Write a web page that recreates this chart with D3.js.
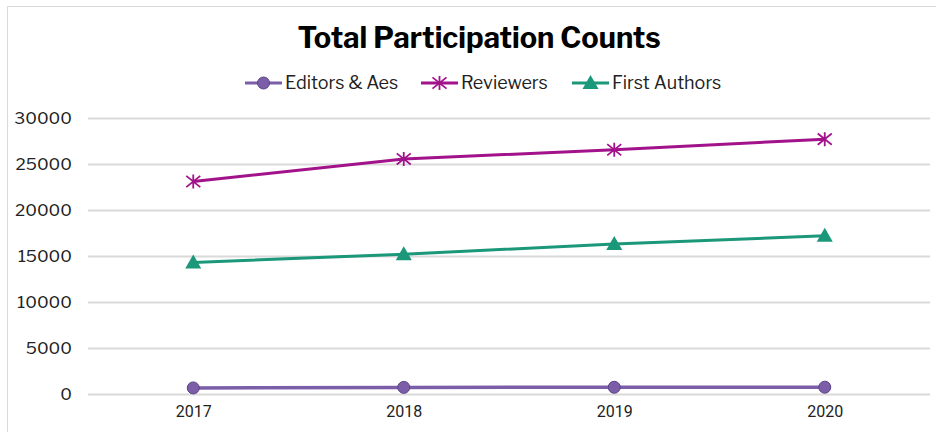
<!DOCTYPE html>
<html>
<head>
<meta charset="utf-8">
<script src="https://cdn.jsdelivr.net/npm/d3@7"></script>
<style>
  html, body { margin: 0; padding: 0; background: #fff; }
  svg { display: block; }
</style>
</head>
<body>
<svg id="chart" width="936" height="432"></svg>
<script>
const years = ["2017", "2018", "2019", "2020"];
const editors = [660, 720, 730, 740];
const reviewers = [23100, 25550, 26550, 27700];
const firstAuthors = [14300, 15200, 16300, 17200];
const yTicks = [0, 5000, 10000, 15000, 20000, 25000, 30000];
const seriesNames = ["Editors & Aes", "Reviewers", "First Authors"];
const title = "Total Participation Counts";

const colors = { "Editors & Aes": "#7b5ea7", "Reviewers": "#a2128a", "First Authors": "#1b977a" };
const series = [
  { name: seriesNames[0], values: editors, marker: "circle" },
  { name: seriesNames[1], values: reviewers, marker: "star" },
  { name: seriesNames[2], values: firstAuthors, marker: "triangle" }
];

const svg = d3.select("#chart");
const W = 936, H = 432;
const plot = { left: 88, right: 930, top: 118, bottom: 394 };
const fontMain = "'Libre Franklin', 'Roboto', 'Noto Sans', sans-serif";

// frame
svg.append("line").attr("x1", 7.5).attr("x2", 7.5).attr("y1", 6.5).attr("y2", H).attr("stroke", "#d9d9d9").attr("stroke-width", 1);
svg.append("line").attr("x1", 7.5).attr("x2", W).attr("y1", 6.5).attr("y2", 6.5).attr("stroke", "#d9d9d9").attr("stroke-width", 1);

const x = d3.scalePoint().domain(years).range([plot.left, plot.right]).padding(0.5);
const y = d3.scaleLinear().domain([0, 30000]).range([plot.bottom, plot.top]);

// gridlines + y axis
const yAxis = d3.axisLeft(y).tickValues(yTicks).tickSize(-(plot.right - plot.left)).tickPadding(16).tickFormat(d3.format("d"));
const gy = svg.append("g").attr("transform", `translate(${plot.left},0)`).call(yAxis);
gy.select(".domain").remove();
gy.selectAll(".tick line").attr("stroke", "#d9d9d9").attr("stroke-width", 2);
gy.selectAll(".tick text").attr("font-family", fontMain).attr("font-size", 17).attr("fill", "#222");

// x axis
const xAxis = d3.axisBottom(x).tickSize(0).tickPadding(12);
const gx = svg.append("g").attr("transform", `translate(0,${plot.bottom})`).call(xAxis);
gx.select(".domain").remove();
gx.selectAll(".tick text").attr("font-family", "'Roboto', sans-serif").attr("font-size", 16).attr("fill", "#222");

// symbol generators
function drawMarker(g, type, color, cx, cy) {
  if (type === "circle") {
    g.append("circle").attr("cx", cx).attr("cy", cy).attr("r", 6)
      .attr("fill", color).attr("stroke", "#5b4287").attr("stroke-width", 1);
  } else if (type === "star") {
    const s = 7;
    const p = d3.path();
    p.moveTo(cx - s, cy - s * 0.8); p.lineTo(cx + s, cy + s * 0.8);
    p.moveTo(cx - s, cy + s * 0.8); p.lineTo(cx + s, cy - s * 0.8);
    p.moveTo(cx, cy - s); p.lineTo(cx, cy + s);
    g.append("path").attr("d", p.toString()).attr("stroke", color).attr("stroke-width", 1.8).attr("fill", "none");
  } else if (type === "triangle") {
    const s = 8;
    g.append("path").attr("d", `M${cx},${cy - s}L${cx + s},${cy + s * 0.75}L${cx - s},${cy + s * 0.75}Z`)
      .attr("fill", color);
  }
}

const line = d3.line().x((d, i) => x(years[i])).y(d => y(d));

series.forEach(s => {
  const g = svg.append("g");
  g.append("path").datum(s.values).attr("d", line).attr("fill", "none")
    .attr("stroke", colors[s.name]).attr("stroke-width", s.marker === "circle" ? 3.5 : 3);
  s.values.forEach((v, i) => drawMarker(g, s.marker, colors[s.name], x(years[i]), y(v)));
});

// title
svg.append("text").attr("x", 479).attr("y", 48).attr("text-anchor", "middle")
  .attr("font-family", fontMain).attr("font-weight", 700).attr("font-size", 29).attr("fill", "#000")
  .text(title);

// legend
const legendX = [245, 421, 572];
series.forEach((s, i) => {
  const g = svg.append("g").attr("transform", `translate(${legendX[i]},83)`);
  g.append("line").attr("x1", 0).attr("x2", 37).attr("y1", 0).attr("y2", 0)
    .attr("stroke", colors[s.name]).attr("stroke-width", 3);
  drawMarker(g, s.marker, colors[s.name], 18.5, 0);
  g.append("text").attr("x", 40).attr("y", 6).attr("font-family", fontMain).attr("font-size", 18)
    .attr("fill", "#222").text(s.name);
});
</script>
</body>
</html>
